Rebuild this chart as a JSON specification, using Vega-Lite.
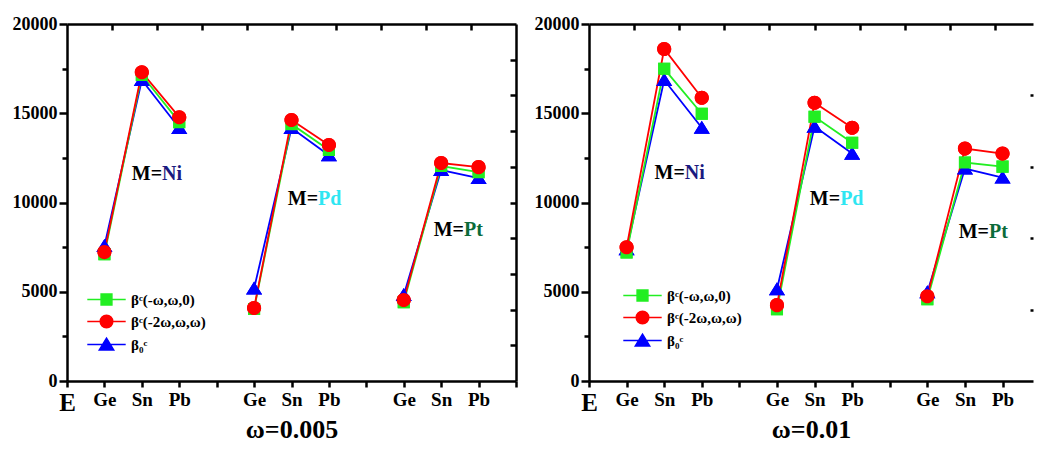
{
  "$schema": "https://vega.github.io/schema/vega-lite/v6.json",
  "background": "white",
  "padding": {"left": 12, "top": 15, "right": 0, "bottom": 2},
  "spacing": 16,
  "config": {
    "view": {"stroke": null},
    "font": "Liberation Serif",
    "axis": {
      "domainColor": "black", "domainWidth": 2.5, "tickColor": "black", "tickWidth": 2.5,
      "labelFont": "Liberation Serif", "labelFontWeight": "bold", "labelFontSize": 18, "labelColor": "black",
      "grid": false, "titleFont": "Liberation Serif", "titleFontWeight": "bold", "titleFontSize": 26, "titleColor": "black"
    }
  },
  "resolve": {"scale": {"color": "independent", "shape": "independent", "size": "independent", "fill": "independent"}, "legend": {"color": "independent"}},
  "datasets": {
    "p1": [
      {"s": "s3", "g": "Ni", "x": 1, "v": 7560}, {"s": "s3", "g": "Ni", "x": 2, "v": 16860}, {"s": "s3", "g": "Ni", "x": 3, "v": 14170},
      {"s": "s3", "g": "Pd", "x": 5, "v": 5180}, {"s": "s3", "g": "Pd", "x": 6, "v": 14170}, {"s": "s3", "g": "Pd", "x": 7, "v": 12650},
      {"s": "s3", "g": "Pt", "x": 9, "v": 4820}, {"s": "s3", "g": "Pt", "x": 10, "v": 11820}, {"s": "s3", "g": "Pt", "x": 11, "v": 11370},
      {"s": "s1", "g": "Ni", "x": 1, "v": 7100}, {"s": "s1", "g": "Ni", "x": 2, "v": 17140}, {"s": "s1", "g": "Ni", "x": 3, "v": 14500},
      {"s": "s1", "g": "Pd", "x": 5, "v": 4030}, {"s": "s1", "g": "Pd", "x": 6, "v": 14390}, {"s": "s1", "g": "Pd", "x": 7, "v": 12940},
      {"s": "s1", "g": "Pt", "x": 9, "v": 4420}, {"s": "s1", "g": "Pt", "x": 10, "v": 12040}, {"s": "s1", "g": "Pt", "x": 11, "v": 11700},
      {"s": "s2", "g": "Ni", "x": 1, "v": 7220}, {"s": "s2", "g": "Ni", "x": 2, "v": 17300}, {"s": "s2", "g": "Ni", "x": 3, "v": 14780},
      {"s": "s2", "g": "Pd", "x": 5, "v": 4090}, {"s": "s2", "g": "Pd", "x": 6, "v": 14620}, {"s": "s2", "g": "Pd", "x": 7, "v": 13220},
      {"s": "s2", "g": "Pt", "x": 9, "v": 4540}, {"s": "s2", "g": "Pt", "x": 10, "v": 12210}, {"s": "s2", "g": "Pt", "x": 11, "v": 11980}
    ],
    "p2": [
      {"s": "s3", "g": "Ni", "x": 1, "v": 7380}, {"s": "s3", "g": "Ni", "x": 2, "v": 16860}, {"s": "s3", "g": "Ni", "x": 3, "v": 14190},
      {"s": "s3", "g": "Pd", "x": 5, "v": 5140}, {"s": "s3", "g": "Pd", "x": 6, "v": 14250}, {"s": "s3", "g": "Pd", "x": 7, "v": 12740},
      {"s": "s3", "g": "Pt", "x": 9, "v": 4970}, {"s": "s3", "g": "Pt", "x": 10, "v": 11900}, {"s": "s3", "g": "Pt", "x": 11, "v": 11400},
      {"s": "s1", "g": "Ni", "x": 1, "v": 7200}, {"s": "s1", "g": "Ni", "x": 2, "v": 17490}, {"s": "s1", "g": "Ni", "x": 3, "v": 14970},
      {"s": "s1", "g": "Pd", "x": 5, "v": 4020}, {"s": "s1", "g": "Pd", "x": 6, "v": 14800}, {"s": "s1", "g": "Pd", "x": 7, "v": 13350},
      {"s": "s1", "g": "Pt", "x": 9, "v": 4580}, {"s": "s1", "g": "Pt", "x": 10, "v": 12240}, {"s": "s1", "g": "Pt", "x": 11, "v": 12010},
      {"s": "s2", "g": "Ni", "x": 1, "v": 7490}, {"s": "s2", "g": "Ni", "x": 2, "v": 18600}, {"s": "s2", "g": "Ni", "x": 3, "v": 15870},
      {"s": "s2", "g": "Pd", "x": 5, "v": 4250}, {"s": "s2", "g": "Pd", "x": 6, "v": 15590}, {"s": "s2", "g": "Pd", "x": 7, "v": 14190},
      {"s": "s2", "g": "Pt", "x": 9, "v": 4750}, {"s": "s2", "g": "Pt", "x": 10, "v": 13020}, {"s": "s2", "g": "Pt", "x": 11, "v": 12740}
    ],
    "lab1": [
      {"el": "Ni", "x": 2.54, "y": 11600},
      {"el": "Pd", "x": 6.71, "y": 10190},
      {"el": "Pt", "x": 10.61, "y": 8456}
    ],
    "lab2": [
      {"el": "Ni", "x": 2.55, "y": 11680},
      {"el": "Pd", "x": 6.68, "y": 10220},
      {"el": "Pt", "x": 10.64, "y": 8325}
    ]
  },
  "hconcat": [
    {
      "width": 449, "height": 357,
      "resolve": {"axis": {"x": "independent", "y": "independent"}},
      "layer": [
        {
          "data": {"name": "p1"},
          "mark": {"type": "point", "filled": true, "opacity": 1},
          "encoding": {
            "x": {"field": "x", "type": "quantitative", "scale": {"domain": [0, 12], "nice": false, "zero": false},
              "axis": {"orient": "top", "values": [1.2, 2.4, 3.6, 4.8, 6, 7.2, 8.4, 9.6, 10.8], "labels": false, "tickSize": -6, "title": null}},
            "y": {"field": "v", "type": "quantitative", "scale": {"domain": [0, 20000], "nice": false},
              "axis": {"orient": "right", "values": [2000, 4000, 6000, 8000, 10000, 12000, 14000, 16000, 18000], "labels": false, "tickSize": -6, "title": null}},
            "color": {"field": "s", "type": "nominal", "scale": {"domain": ["s1", "s2", "s3"], "range": ["#22ee22", "#ff0000", "#0000ff"]},
              "legend": {
                "orient": "none", "legendX": 32, "legendY": 268, "title": null, "padding": 0,
                "labelExpr": "datum.value == 's1' ? 'βᶜ(-ω,ω,0)' : datum.value == 's2' ? 'βᶜ(-2ω,ω,ω)' : 'β₀ᶜ'",
                "labelFont": "Liberation Serif", "labelFontSize": 15, "labelFontWeight": "bold", "labelColor": "black",
                "symbolSize": 144, "symbolStrokeWidth": 1.5, "symbolOpacity": 1, "labelOffset": 17, "rowPadding": 4
              }},
            "shape": {"field": "s", "type": "nominal",
              "scale": {"domain": ["s1", "s2", "s3"], "range": [
                "M-3.2,0H3.2M-0.9,-0.9H0.9V0.9H-0.9Z",
                "M-3.2,0H3.2M-1.05,0A1.05,1.05,0,1,1,1.05,0A1.05,1.05,0,1,1,-1.05,0Z",
                "M-3.2,0H3.2M0,-1.05L1.2,0.9L-1.2,0.9Z"]}},
            "size": {"field": "s", "type": "ordinal", "scale": {"range": [180, 180, 200]}, "legend": null}
          }
        },
        {
          "data": {"name": "p1"},
          "mark": {"type": "line", "strokeWidth": 1.8},
          "encoding": {
            "x": {"field": "x", "type": "quantitative",
              "axis": {"orient": "bottom", "values": [0,1,2,3,4,5,6,7,8,9,10,11,12],
                "labelExpr": "['E','Ge','Sn','Pb','','Ge','Sn','Pb','','Ge','Sn','Pb',''][datum.value]",
                "labelFontSize": {"condition": {"test": "datum.value == 0", "value": 25}, "value": 19},
                "tickSize": 6, "labelPadding": 3, "labelFlush": false, "labelOverlap": false,
                "title": "ω=0.005", "titlePadding": 1}},
            "y": {"field": "v", "type": "quantitative",
              "axis": {"orient": "left", "values": [0, 5000, 10000, 15000, 20000], "format": "d", "tickSize": 8, "labelPadding": 2, "title": null}},
            "color": {"field": "s", "type": "nominal"},
            "detail": {"field": "g"}
          }
        },
        {
          "data": {"name": "p1"},
          "mark": {"type": "point", "filled": true, "opacity": 1},
          "encoding": {
            "x": {"field": "x", "type": "quantitative", "axis": null},
            "y": {"field": "v", "type": "quantitative", "axis": null},
            "color": {"field": "s", "type": "nominal"},
            "shape": {"field": "s", "type": "nominal"},
            "size": {"field": "s", "type": "ordinal", "legend": null}
          }
        },
        {
          "data": {"name": "lab1"},
          "mark": {"type": "text", "align": "right", "baseline": "middle", "font": "Liberation Serif", "fontWeight": "bold", "fontSize": 20, "color": "black"},
          "encoding": {
            "x": {"field": "x", "type": "quantitative", "axis": null},
            "y": {"field": "y", "type": "quantitative",
              "axis": {"orient": "left", "values": [2500, 7500, 12500, 17500], "labels": false, "domain": false, "tickSize": 5, "title": null}},
            "text": {"value": "M="}
          }
        },
        {
          "data": {"name": "lab1"},
          "mark": {"type": "text", "align": "left", "baseline": "middle", "font": "Liberation Serif", "fontWeight": "bold", "fontSize": 20},
          "encoding": {
            "x": {"field": "x", "type": "quantitative", "axis": null},
            "y": {"field": "y", "type": "quantitative", "axis": null},
            "text": {"field": "el"},
            "fill": {"field": "el", "type": "nominal", "scale": {"domain": ["Ni", "Pd", "Pt"], "range": ["#1a1a80", "#2ee6f2", "#0b6b3a"]}, "legend": null}
          }
        }
      ]
    },
    {
      "width": 444, "height": 357,
      "resolve": {"axis": {"x": "independent", "y": "independent"}},
      "layer": [
        {
          "data": {"name": "p2"},
          "mark": {"type": "point", "filled": true, "opacity": 1},
          "encoding": {
            "x": {"field": "x", "type": "quantitative", "scale": {"domain": [0, 11.81], "nice": false, "zero": false},
              "axis": {"orient": "top", "values": [1.2, 2.4, 3.6, 4.8, 6, 7.2, 8.4, 9.6, 10.8], "labels": false, "tickSize": -6, "title": null}},
            "y": {"field": "v", "type": "quantitative", "scale": {"domain": [0, 20000], "nice": false},
              "axis": {"orient": "right", "values": [4000, 8000, 12000, 16000], "labels": false, "domain": false, "tickSize": -3, "title": null}},
            "color": {"field": "s", "type": "nominal", "scale": {"domain": ["s1", "s2", "s3"], "range": ["#22ee22", "#ff0000", "#0000ff"]},
              "legend": {
                "orient": "none", "legendX": 46, "legendY": 264, "title": null, "padding": 0,
                "labelExpr": "datum.value == 's1' ? 'βᶜ(-ω,ω,0)' : datum.value == 's2' ? 'βᶜ(-2ω,ω,ω)' : 'β₀ᶜ'",
                "labelFont": "Liberation Serif", "labelFontSize": 15, "labelFontWeight": "bold", "labelColor": "black",
                "symbolSize": 144, "symbolStrokeWidth": 1.5, "symbolOpacity": 1, "labelOffset": 17, "rowPadding": 4
              }},
            "shape": {"field": "s", "type": "nominal",
              "scale": {"domain": ["s1", "s2", "s3"], "range": [
                "M-3.2,0H3.2M-0.9,-0.9H0.9V0.9H-0.9Z",
                "M-3.2,0H3.2M-1.05,0A1.05,1.05,0,1,1,1.05,0A1.05,1.05,0,1,1,-1.05,0Z",
                "M-3.2,0H3.2M0,-1.05L1.2,0.9L-1.2,0.9Z"]}},
            "size": {"field": "s", "type": "ordinal", "scale": {"range": [180, 180, 200]}, "legend": null}
          }
        },
        {
          "data": {"name": "p2"},
          "mark": {"type": "line", "strokeWidth": 1.8},
          "encoding": {
            "x": {"field": "x", "type": "quantitative",
              "axis": {"orient": "bottom", "values": [0,1,2,3,4,5,6,7,8,9,10,11],
                "labelExpr": "['E','Ge','Sn','Pb','','Ge','Sn','Pb','','Ge','Sn','Pb',''][datum.value]",
                "labelFontSize": {"condition": {"test": "datum.value == 0", "value": 25}, "value": 19},
                "tickSize": 6, "labelPadding": 3, "labelFlush": false, "labelOverlap": false,
                "title": "ω=0.01", "titlePadding": 1}},
            "y": {"field": "v", "type": "quantitative",
              "axis": {"orient": "left", "values": [0, 5000, 10000, 15000, 20000], "format": "d", "tickSize": 8, "labelPadding": 2, "title": null}},
            "color": {"field": "s", "type": "nominal"},
            "detail": {"field": "g"}
          }
        },
        {
          "data": {"name": "p2"},
          "mark": {"type": "point", "filled": true, "opacity": 1},
          "encoding": {
            "x": {"field": "x", "type": "quantitative", "axis": null},
            "y": {"field": "v", "type": "quantitative", "axis": null},
            "color": {"field": "s", "type": "nominal"},
            "shape": {"field": "s", "type": "nominal"},
            "size": {"field": "s", "type": "ordinal", "legend": null}
          }
        },
        {
          "data": {"name": "lab2"},
          "mark": {"type": "text", "align": "right", "baseline": "middle", "font": "Liberation Serif", "fontWeight": "bold", "fontSize": 20, "color": "black"},
          "encoding": {
            "x": {"field": "x", "type": "quantitative", "axis": null},
            "y": {"field": "y", "type": "quantitative",
              "axis": {"orient": "left", "values": [2500, 7500, 12500, 17500], "labels": false, "domain": false, "tickSize": 5, "title": null}},
            "text": {"value": "M="}
          }
        },
        {
          "data": {"name": "lab2"},
          "mark": {"type": "text", "align": "left", "baseline": "middle", "font": "Liberation Serif", "fontWeight": "bold", "fontSize": 20},
          "encoding": {
            "x": {"field": "x", "type": "quantitative", "axis": null},
            "y": {"field": "y", "type": "quantitative", "axis": null},
            "text": {"field": "el"},
            "fill": {"field": "el", "type": "nominal", "scale": {"domain": ["Ni", "Pd", "Pt"], "range": ["#1a1a80", "#2ee6f2", "#0b6b3a"]}, "legend": null}
          }
        }
      ]
    }
  ]
}
